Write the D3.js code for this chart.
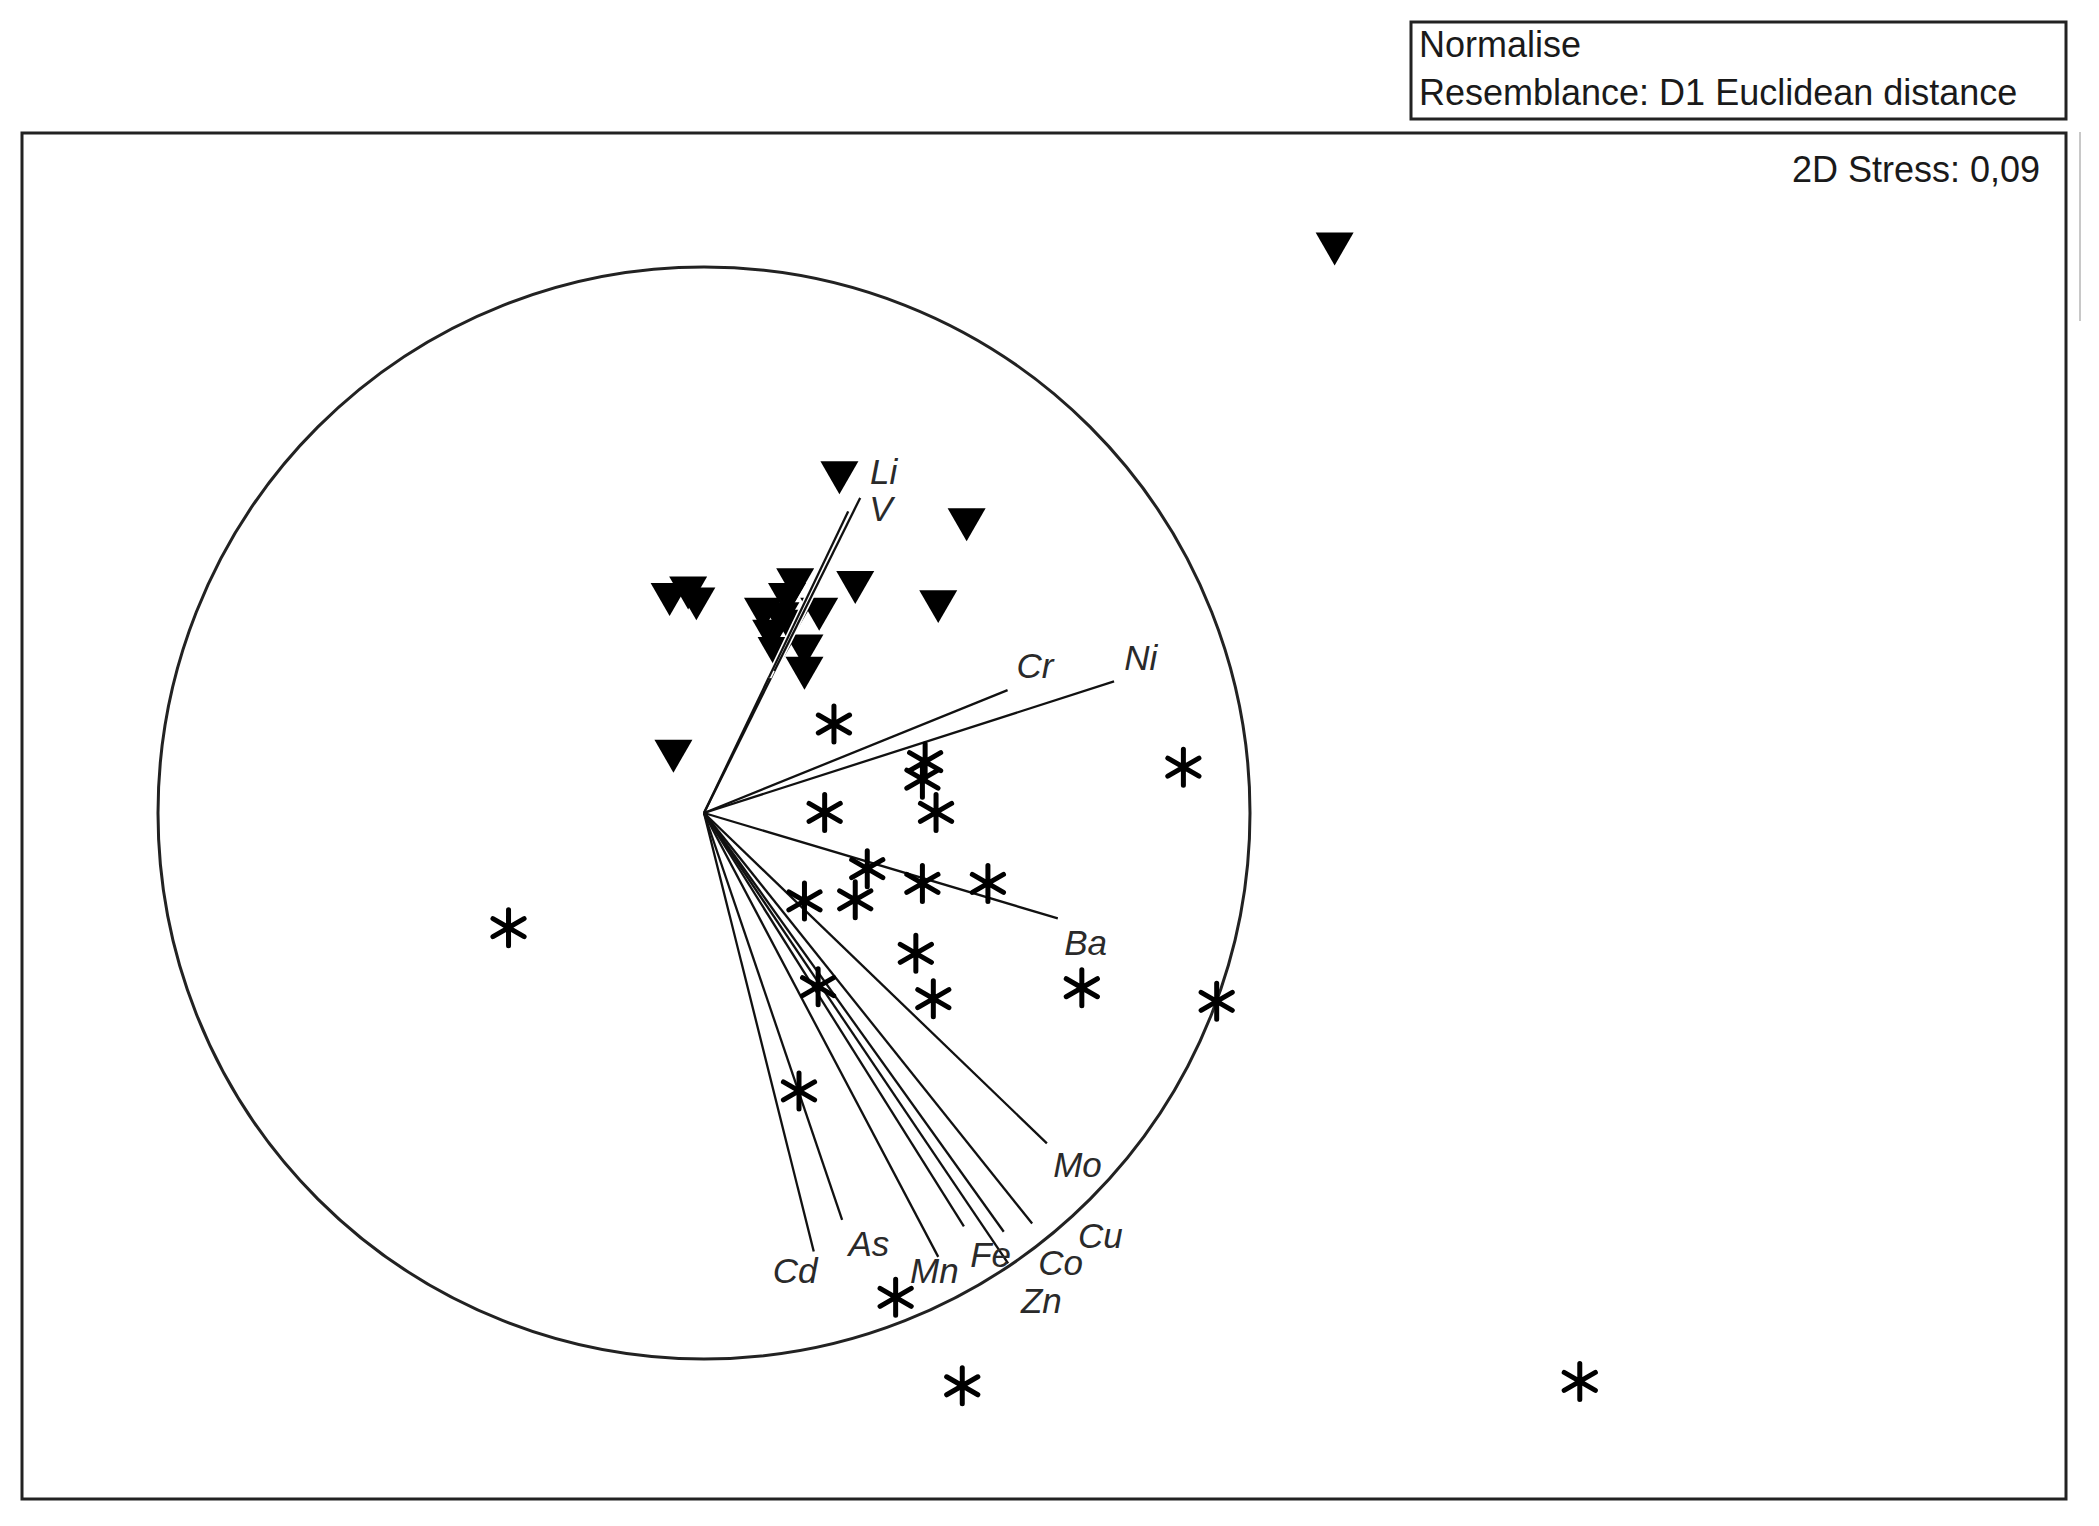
<!DOCTYPE html>
<html>
<head>
<meta charset="utf-8">
<script src="https://cdn.jsdelivr.net/npm/d3@7"></script>
<style>
  html, body { margin: 0; padding: 0; background: #fff; }
  svg { display: block; }
  text { font-family: "Liberation Sans", Arial, sans-serif; }
</style>
</head>
<body>
<script>
// ---- Data (MDS ordination coordinates, correlation circle radius = 1) ----
// Group 1: filled down-triangles
const triX = [1.155, 0.248, 0.481, -0.063, -0.029, -0.014, 0.277, 0.429, 0.167, 0.152, 0.108, 0.140, 0.211, 0.157, 0.123, 0.184, 0.133, 0.184, -0.056];
const triY = [1.033, 0.614, 0.528, 0.391, 0.403, 0.383, 0.413, 0.378, 0.418, 0.391, 0.364, 0.356, 0.364, 0.342, 0.324, 0.297, 0.292, 0.256, 0.104];
// Group 2: asterisks
const astX = [0.238, 0.405, 0.400, 0.878, 0.221, 0.425, 0.299, 0.400, 0.520, 0.184, 0.277, -0.358, 0.388, 0.692, 0.939, 0.209, 0.420, 0.174, 0.351, 0.473, 1.604];
const astY = [0.163, 0.094, 0.062, 0.084, 0.001, 0.001, -0.102, -0.129, -0.129, -0.161, -0.159, -0.210, -0.257, -0.320, -0.345, -0.318, -0.340, -0.509, -0.887, -1.049, -1.041];
// Variable vectors (Pearson correlation overlay)
const varNames = ["Li", "V", "Cr", "Ni", "Ba", "Mo", "Cu", "Co", "Zn", "Fe", "Mn", "As", "Cd"];
const varX = [0.286, 0.264, 0.556, 0.751, 0.648, 0.628, 0.601, 0.549, 0.557, 0.476, 0.429, 0.253, 0.201];
const varY = [0.577, 0.552, 0.225, 0.241, -0.193, -0.605, -0.752, -0.767, -0.825, -0.757, -0.813, -0.745, -0.803];
// Label anchor points for the vectors (same coordinate space)
const labX = [0.329, 0.324, 0.606, 0.800, 0.699, 0.684, 0.726, 0.653, 0.618, 0.525, 0.422, 0.302, 0.167];
const labY = [0.626, 0.557, 0.270, 0.285, -0.237, -0.644, -0.774, -0.823, -0.892, -0.808, -0.838, -0.789, -0.838];
// Texts
const legendLines = ["Normalise", "Resemblance: D1 Euclidean distance"];
const stressText = "2D Stress: 0,09";

// ---- Layout ----
const W = 2099, H = 1526;
const cx = 704, cy = 813, R = 546;
const frame = { x: 22, y: 133, w: 2044, h: 1366 };
const legendBox = { x: 1411, y: 22, w: 655, h: 97 };

const svg = d3.select("body").append("svg")
  .attr("width", W).attr("height", H)
  .attr("viewBox", `0 0 ${W} ${H}`);

svg.append("rect").attr("width", W).attr("height", H).attr("fill", "#fff");

const x = d3.scaleLinear().domain([-1, 1]).range([cx - R, cx + R]);
const y = d3.scaleLinear().domain([-1, 1]).range([cy + R, cy - R]);

// Legend box
svg.append("rect")
  .attr("x", legendBox.x).attr("y", legendBox.y)
  .attr("width", legendBox.w).attr("height", legendBox.h)
  .attr("fill", "none").attr("stroke", "#222").attr("stroke-width", 3);
svg.selectAll("text.legend").data(legendLines).join("text")
  .attr("class", "legend")
  .attr("x", legendBox.x + 8)
  .attr("y", (d, i) => 57 + i * 48)
  .attr("font-size", 36)
  .attr("fill", "#1a1a1a")
  .text(d => d);

// Plot frame
svg.append("rect")
  .attr("x", frame.x).attr("y", frame.y)
  .attr("width", frame.w).attr("height", frame.h)
  .attr("fill", "none").attr("stroke", "#222").attr("stroke-width", 3);

// faint artifact line at right edge
svg.append("line")
  .attr("x1", 2080).attr("x2", 2080).attr("y1", 132).attr("y2", 321)
  .attr("stroke", "#c8c8c8").attr("stroke-width", 2);

// Stress text
svg.append("text")
  .attr("x", 2040).attr("y", 182)
  .attr("text-anchor", "end")
  .attr("font-size", 36)
  .attr("fill", "#1a1a1a")
  .text(stressText);

// Correlation circle
svg.append("circle")
  .attr("cx", x(0)).attr("cy", y(0))
  .attr("r", x(1) - x(0))
  .attr("fill", "none").attr("stroke", "#222").attr("stroke-width", 3);

const vectors = varNames.map((n, i) => ({ name: n, x: varX[i], y: varY[i], lx: labX[i], ly: labY[i] }));
const tris = triX.map((v, i) => ({ x: v, y: triY[i] }));
const asts = astX.map((v, i) => ({ x: v, y: astY[i] }));

// Vectors (under the markers)
svg.append("g").selectAll("line").data(vectors).join("line")
  .attr("x1", x(0)).attr("y1", y(0))
  .attr("x2", d => x(d.x)).attr("y2", d => y(d.y))
  .attr("stroke", "#111").attr("stroke-width", 2.3);

// Triangles
const triSide = 38, triH = triSide * Math.sqrt(3) / 2;
const triPath = `M${-triSide/2},${-triH/2}L${triSide/2},${-triH/2}L0,${triH/2}Z`;
svg.append("g").selectAll("path").data(tris).join("path")
  .attr("transform", d => `translate(${x(d.x)},${y(d.y)})`)
  .attr("d", triPath)
  .attr("fill", "#000");

// Vectors passing through the triangle cluster stay visible (white edge)
const upper = vectors.filter(d => d.y > 0.4);
const t0 = 0.45;
const ug = svg.append("g");
ug.selectAll("line.halo").data(upper).join("line")
  .attr("class", "halo")
  .attr("x1", d => x(d.x * t0)).attr("y1", d => y(d.y * t0))
  .attr("x2", d => x(d.x)).attr("y2", d => y(d.y))
  .attr("stroke", "#fff").attr("stroke-width", 5.5);
ug.selectAll("line.vec").data(upper).join("line")
  .attr("class", "vec")
  .attr("x1", d => x(d.x * t0)).attr("y1", d => y(d.y * t0))
  .attr("x2", d => x(d.x)).attr("y2", d => y(d.y))
  .attr("stroke", "#111").attr("stroke-width", 2.3);

// Asterisks
const ar = 18;
const a30x = ar * Math.cos(Math.PI / 6), a30y = ar * Math.sin(Math.PI / 6);
const astPath = `M0,${-ar}L0,${ar}M${-a30x},${-a30y}L${a30x},${a30y}M${-a30x},${a30y}L${a30x},${-a30y}`;
svg.append("g").selectAll("path").data(asts).join("path")
  .attr("transform", d => `translate(${x(d.x)},${y(d.y)})`)
  .attr("d", astPath)
  .attr("fill", "none").attr("stroke", "#000")
  .attr("stroke-width", 5).attr("stroke-linecap", "round");

// Vector labels
svg.append("g").selectAll("text").data(vectors).join("text")
  .attr("x", d => x(d.lx)).attr("y", d => y(d.ly))
  .attr("text-anchor", "middle")
  .attr("dominant-baseline", "central")
  .attr("font-size", 35)
  .attr("font-style", "italic")
  .attr("fill", "#2a2a2a")
  .text(d => d.name);
</script>
</body>
</html>
